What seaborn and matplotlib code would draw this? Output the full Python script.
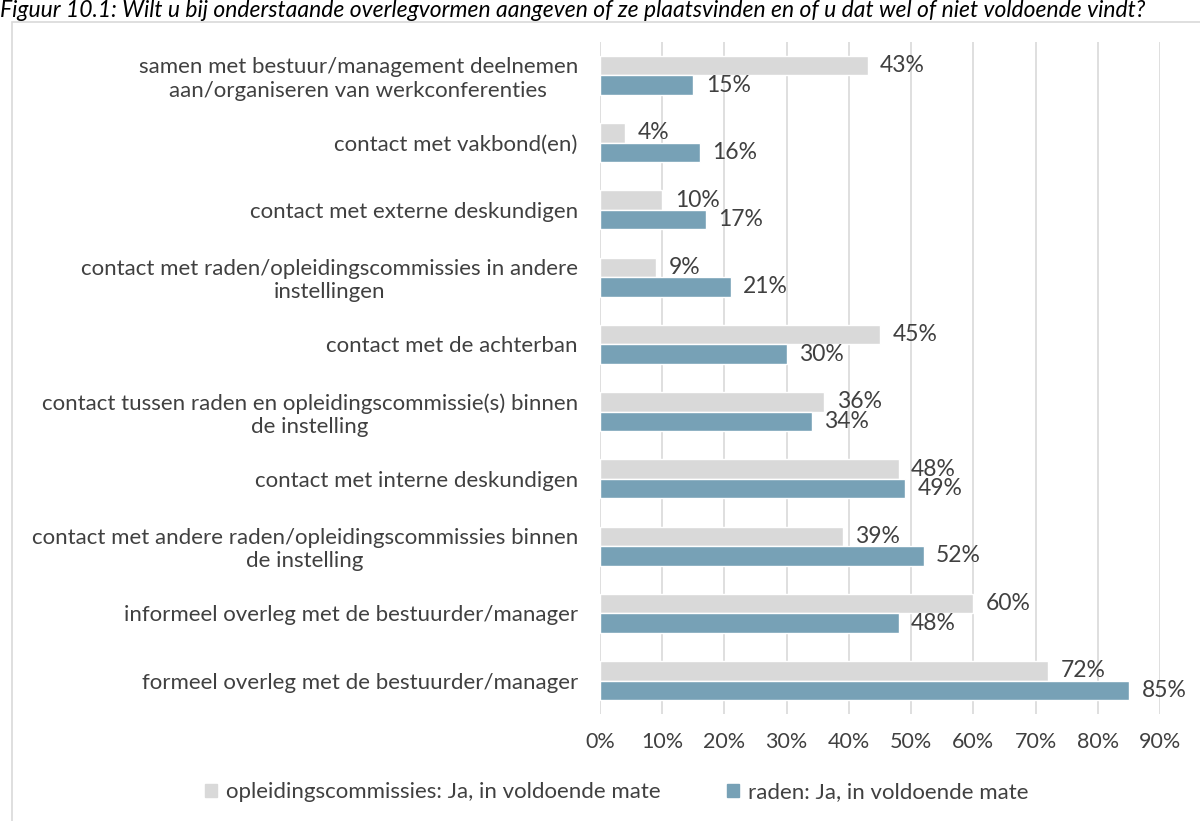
import matplotlib
matplotlib.use("Agg")
import matplotlib.pyplot as plt
import matplotlib.patches as mpatches
import seaborn as sns
import pandas as pd

categories = [
    "samen met bestuur/management deelnemen\naan/organiseren van werkconferenties",
    "contact met vakbond(en)",
    "contact met externe deskundigen",
    "contact met raden/opleidingscommissies in andere\ninstellingen",
    "contact met de achterban",
    "contact tussen raden en opleidingscommissie(s) binnen\nde instelling",
    "contact met interne deskundigen",
    "contact met andere raden/opleidingscommissies binnen\nde instelling",
    "informeel overleg met de bestuurder/manager",
    "formeel overleg met de bestuurder/manager",
]
series_names = [
    "opleidingscommissies: Ja, in voldoende mate",
    "raden: Ja, in voldoende mate",
]
opleidingscommissies = [43, 4, 10, 9, 45, 36, 48, 39, 60, 72]
raden = [15, 16, 17, 21, 30, 34, 49, 52, 48, 85]
x_ticks = [0, 10, 20, 30, 40, 50, 60, 70, 80, 90]

title = ("Figuur 10.1: Wilt u bij onderstaande overlegvormen aangeven of ze "
         "plaatsvinden en of u dat wel of niet voldoende vindt?")

df = pd.DataFrame({
    "categorie": categories * 2,
    "serie": [series_names[0]] * len(categories) + [series_names[1]] * len(categories),
    "waarde": opleidingscommissies + raden,
})

sns.set_theme(style="white")
plt.rcParams["font.family"] = ["Lato", "DejaVu Sans"]
text_color = "#404040"
gray = "#d9d9d9"
blue = "#77a1b6"

fig = plt.figure(figsize=(12, 8.21), dpi=100)
ax = fig.add_axes([0.5, 0.130, 0.4667, 0.819])

sns.barplot(
    data=df, x="waarde", y="categorie", hue="serie",
    order=categories, hue_order=series_names,
    palette=[gray, blue], width=0.58, ax=ax, legend=False,
    saturation=1,
)

for container in ax.containers:
    ax.bar_label(container, labels=[f"{v:.0f}%" for v in container.datavalues],
                 padding=9, fontsize=16.5, color=text_color)

ax.set_xlim(0, 90)
ax.set_xticks(x_ticks)
ax.set_xticklabels([f"{t}%" for t in x_ticks])
ax.set_xlabel("")
ax.set_ylabel("")
ax.grid(axis="x", color=gray, linewidth=1.2)
ax.set_axisbelow(True)
for s in ax.spines.values():
    s.set_visible(False)
ax.tick_params(axis="x", length=0, pad=13, labelsize=15.5, labelcolor=text_color)
ax.tick_params(axis="y", length=0, pad=16, labelsize=16, labelcolor=text_color)
for lbl in ax.get_yticklabels():
    lbl.set_multialignment("center")

handles = [mpatches.Patch(color=gray, label=series_names[0]),
           mpatches.Patch(color=blue, label=series_names[1])]
fig.legend(handles=handles, loc="center", bbox_to_anchor=(0.514, 0.035), ncol=2,
           frameon=False, fontsize=16, handlelength=0.55, handleheight=0.55,
           handletextpad=0.4, columnspacing=3.0, labelcolor=text_color)

border = mpatches.Rectangle((0.01, -0.05), 1.0, 1.023, transform=fig.transFigure,
                            fill=False, edgecolor=gray, linewidth=1.2)
fig.patches.append(border)

fig.text(0.0, 1 - 17 / 821, title, ha="left", va="baseline", fontsize=16.5,
         style="italic", color="black")

fig.savefig("out.png", dpi=100)
